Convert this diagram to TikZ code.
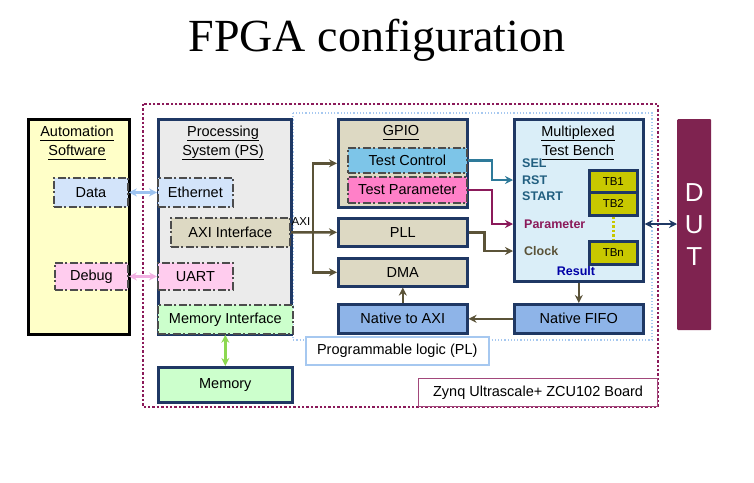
\documentclass[tikz,border=0pt]{standalone}
\usepackage{fontspec}
\setmainfont{Liberation Sans}
\newfontfamily\titlefont{Liberation Serif}
\usetikzlibrary{arrows.meta,positioning,calc}

\definecolor{navy}{HTML}{1F3864}
\definecolor{olivearr}{HTML}{5B5338}
\definecolor{tealarr}{HTML}{2E7A9A}
\definecolor{tealtxt}{HTML}{215F80}
\definecolor{maroon}{HTML}{8B1A5A}
\definecolor{swyellow}{HTML}{FFFFC8}
\definecolor{psgray}{HTML}{EBEBEB}
\definecolor{tan}{HTML}{DDD9C3}
\definecolor{lblue}{HTML}{D3E4FA}
\definecolor{lpink}{HTML}{FFCCEE}
\definecolor{lgreen}{HTML}{CCFFCC}
\definecolor{tcblue}{HTML}{7DC5E8}
\definecolor{tppink}{HTML}{FF80C8}
\definecolor{natblue}{HTML}{8EB4E8}
\definecolor{mtbblue}{HTML}{DAEEF8}
\definecolor{tbyellow}{HTML}{C8C800}
\definecolor{dutred}{HTML}{7F2350}
\definecolor{plblue}{HTML}{A6C8F0}
\definecolor{ethblue}{HTML}{9DC3F0}
\definecolor{uartpink}{HTML}{F2B0E2}
\definecolor{memgreen}{HTML}{8CD850}

% thick underline for block titles
\newcommand{\ulttl}[1]{\setbox0\hbox{#1}\rlap{\rule[-4.2pt]{\wd0}{1.3pt}}\box0}

\begin{document}
\begin{tikzpicture}[x=1pt, y=-1pt,
    font=\fontsize{14.5}{19}\selectfont,
    blk/.style={draw=navy, line width=2.6pt, anchor=north west, inner sep=0pt},
    sub/.style={draw=black!70, line width=1.8pt, dash pattern=on 8pt off 2.5pt on 2pt off 2.5pt, anchor=north west, inner sep=0pt},
    ttl/.style={align=center},
    sig/.style={font=\fontsize{12.5}{14}\selectfont\bfseries, anchor=west, inner sep=0pt},
    tb/.style={blk, fill=tbyellow, minimum width=48, font=\fontsize{11.5}{13}\selectfont},
    conn/.style={-{Stealth[length=8pt,width=8pt]}, line width=2.4pt, olivearr},
    both/.style={{Stealth[length=8pt,width=8pt]}-{Stealth[length=8pt,width=8pt]}, line width=2.4pt}]
  \useasboundingbox (0,0) rectangle (754,482);

  % Title
  \node (title) at (377,40) {\titlefont\fontsize{46}{50}\selectfont FPGA configuration};

  % Board and PL outlines
  \draw[maroon, line width=2.4pt, dotted] (143,104) rectangle (658,407);
  \draw[plblue, line width=1.2pt, dotted] (293,113) rectangle (652,340);
  \node[draw=maroon!80, line width=1.2pt, anchor=north west, minimum width=239, minimum height=28] (zynq) at (418,378) {Zynq Ultrascale+ ZCU102 Board};
  \node[draw=plblue, line width=1.5pt, fill=white, anchor=north west, minimum width=183, minimum height=28] (pllabel) at (305,336) {Programmable logic (PL)};

  % Automation software
  \node[blk, draw=black, line width=2.8pt, fill=swyellow, minimum width=101, minimum height=215] (auto) at (27,118) {};
  \node[ttl] (autottl) at (77,143) {\ulttl{Automation}\\\ulttl{Software}};
  \node[sub, fill=lblue, minimum width=74, minimum height=29] (data) at (53,177) {Data};
  \node[sub, fill=lpink, minimum width=73, minimum height=27] (debug) at (54,262) {Debug};

  % Processing system
  \node[blk, fill=psgray, minimum width=133, minimum height=215] (ps) at (157,118) {};
  \node[ttl] (psttl) at (223,143) {\ulttl{Processing}\\\ulttl{System (PS)}};
  \node[sub, fill=lblue, minimum width=75, minimum height=29] (eth) at (157,177) {Ethernet};
  \node[sub, fill=tan, minimum width=119, minimum height=29] (axi) at (170,217) {AXI Interface};
  \node[sub, fill=lpink, minimum width=75, minimum height=27] (uart) at (157,262) {UART};
  \node[sub, fill=lgreen, minimum width=135, minimum height=29] (memif) at (157,304) {Memory Interface};
  \node[blk, fill=lgreen, minimum width=134, minimum height=35] (mem) at (157,366) {Memory};

  % Programmable logic
  \node[blk, fill=tan, minimum width=129, minimum height=88] (gpio) at (337,118) {};
  \node (gpiottl) at (401,133) {\ulttl{GPIO}};
  \node[sub, fill=tcblue, minimum width=119, minimum height=25] (tc) at (347,147) {Test Control};
  \node[sub, fill=tppink, minimum width=119, minimum height=26] (tp) at (347,176) {Test Parameter};
  \node[blk, fill=tan, minimum width=129, minimum height=28] (pll) at (337,217) {PLL};
  \node[blk, fill=tan, minimum width=129, minimum height=28] (dma) at (337,257) {DMA};
  \node[blk, fill=natblue, minimum width=129, minimum height=29] (ntoaxi) at (337,303) {Native to AXI};
  \node[blk, fill=natblue, minimum width=129, minimum height=29] (fifo) at (513,303) {Native FIFO};

  % Multiplexed test bench
  \node[blk, fill=mtbblue, minimum width=129, minimum height=162] (mtb) at (513,118) {};
  \node[ttl] (mtbttl) at (578,143) {\ulttl{Multiplexed}\\\ulttl{Test Bench}};
  \node[sig, text=tealtxt] (sel) at (522,163) {SEL};
  \node[sig, text=tealtxt] (rst) at (522,180) {RST};
  \node[sig, text=tealtxt] (start) at (522,196) {START};
  \node[sig, text=maroon] (param) at (524,224) {Parameter};
  \node[sig, text=olivearr] (clock) at (524,251) {Clock};
  \node[sig, anchor=center, text=blue!65!black] (result) at (576,271) {Result};
  \node[tb, minimum height=22] (tb1) at (588,169) {TB1};
  \node[tb, minimum height=23] (tb2) at (588,191) {TB2};
  \node[tb, minimum height=23] (tbn) at (588,240) {TBn};
  \draw[tbyellow, line width=2.4pt, dotted] (tb2.south) -- (tbn.north);

  % DUT
  \node[anchor=north west, fill=dutred, minimum width=34, minimum height=211, rounded corners=1pt] (dut) at (677,119) {};
  \node[text=white, font=\fontsize{26}{30}\selectfont, align=center] (duttxt) at (dut.center) {D\\[2pt]U\\[2pt]T};

  % Connections
  \draw[both, ethblue] (data.east) -- (eth.west);
  \draw[both, uartpink] (debug.east) -- (uart.west);
  \draw[both, memgreen] (memif.south -| mem.north) -- (mem.north);
  \draw[conn] (axi.east) -- (pll.west);
  \node[font=\fontsize{11.5}{13}\selectfont, inner sep=1pt] (axilbl) at (301,222) {AXI};
  \coordinate (axij) at (313,231);
  \draw[conn] (axij) |- (gpio.west);
  \draw[conn] (axij) |- (dma.west);
  \draw[conn, tealarr] (tc.east) -- ++(24,0) |- (mtb.west |- rst);
  \draw[conn, maroon] (tp.east) -- ++(24,0) |- (mtb.west |- param);
  \draw[conn] (pll.east) -- ++(16,0) |- (mtb.west |- clock);
  \draw[conn] (mtb.south) -- (fifo.north);
  \draw[conn] (fifo.west) -- (ntoaxi.east);
  \draw[conn] (ntoaxi.north) -- (dma.south);
  \draw[both, navy] (mtb.east |- param) -- (dut.west |- param);
\end{tikzpicture}
\end{document}
